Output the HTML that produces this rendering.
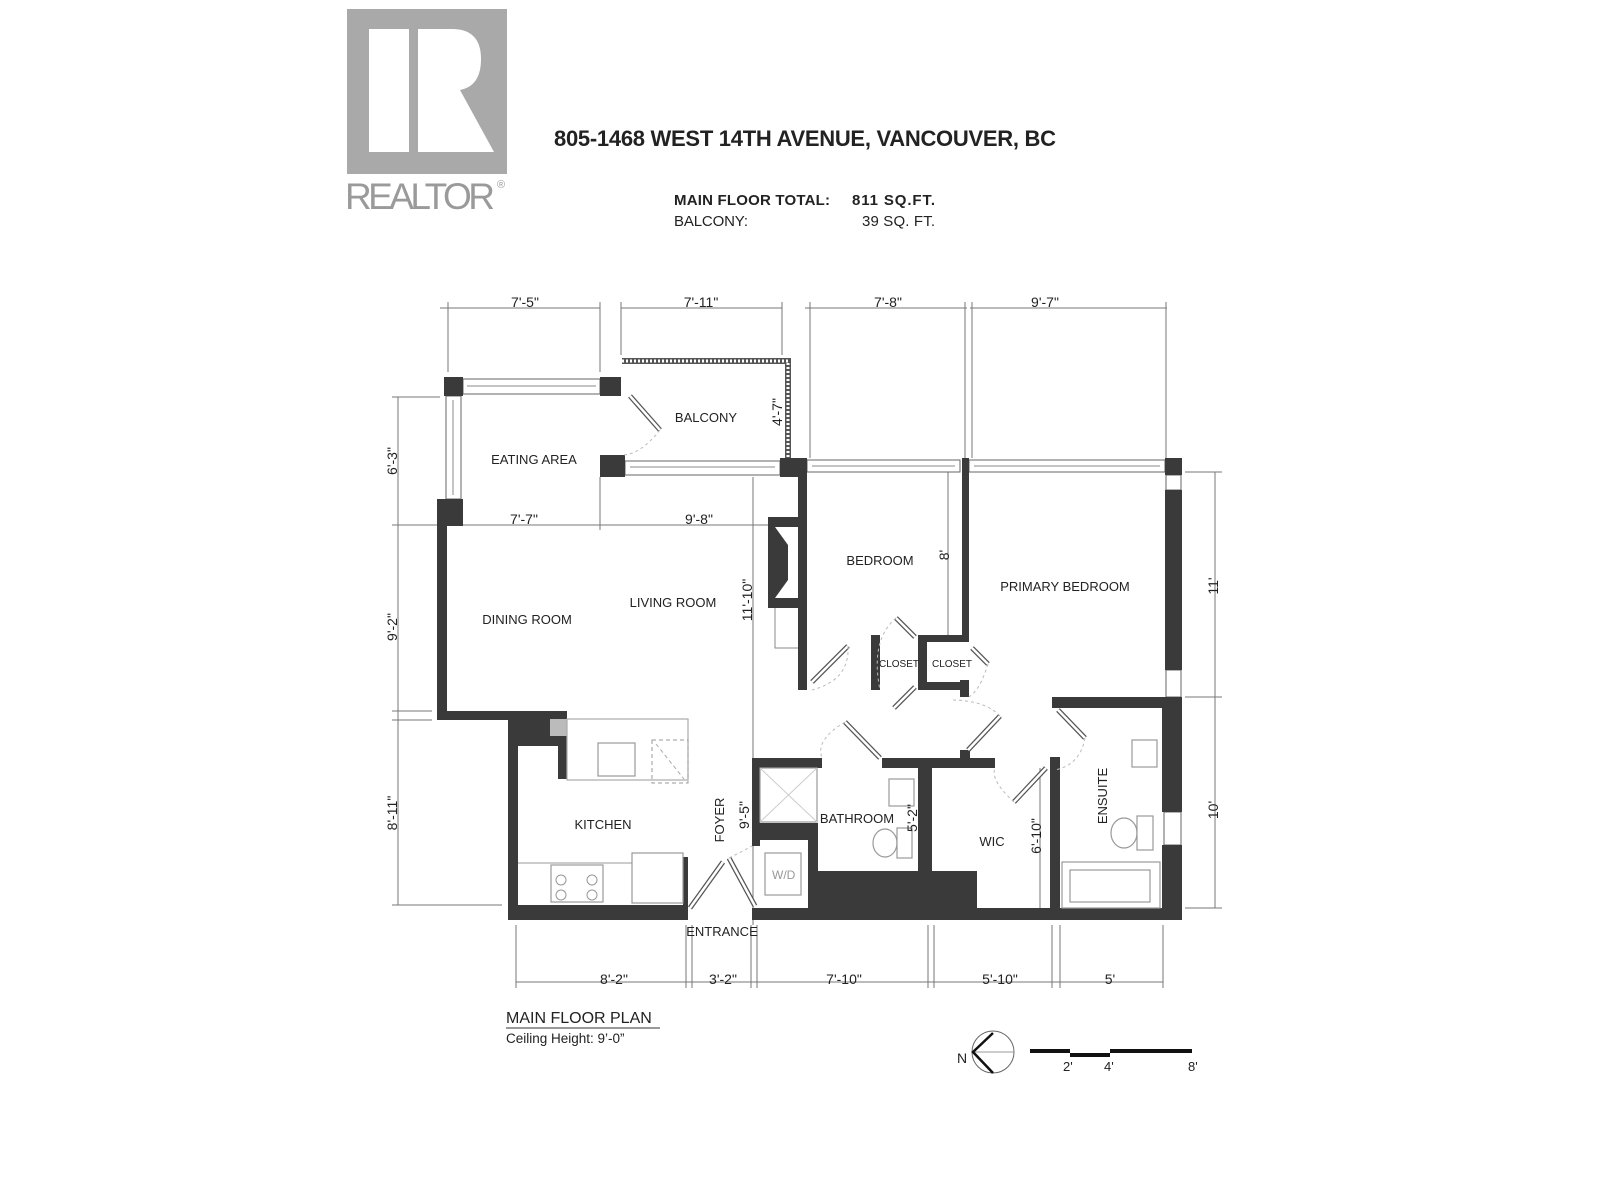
<!DOCTYPE html>
<html><head><meta charset="utf-8"><style>
html,body{margin:0;padding:0;background:#fff}
svg{display:block}
text{font-family:"Liberation Sans",sans-serif;fill:#222}
.r{font-size:13px}
.d{font-size:14px}
.w{fill:#3a3a3a}
.dim{stroke:#777;stroke-width:1;fill:none}
.win{fill:#fff;stroke:#666;stroke-width:1}
.door{stroke:#555;stroke-width:5;stroke-linecap:butt}
.doori{stroke:#fff;stroke-width:2.5}
.arc{stroke:#bbb;stroke-width:1;fill:none;stroke-dasharray:3 3}
.fx{fill:#fff;stroke:#999;stroke-width:1.2}
</style></head><body>
<svg width="1600" height="1200" viewBox="0 0 1600 1200" xmlns="http://www.w3.org/2000/svg">
<!-- logo -->
<rect x="347" y="9" width="160" height="165" fill="#a9a9a9"/>
<rect x="369" y="29" width="40" height="123" fill="#fff"/>
<path d="M418 29 H452 Q481 29 481 59 Q481 86 460 90 L494 152 H418 Z" fill="#fff"/>
<text x="345" y="209" style="font-size:37px;fill:#9a9a9a" textLength="150">REALTOR</text>
<text x="497" y="188" style="font-size:11px;fill:#9a9a9a">®</text>
<!-- title -->
<text x="554" y="146" style="font-size:22px;font-weight:bold" textLength="502">805-1468 WEST 14TH AVENUE, VANCOUVER, BC</text>
<text x="674" y="205" style="font-size:15px;font-weight:bold" textLength="156">MAIN FLOOR TOTAL:</text>
<text x="852" y="205" style="font-size:15px;font-weight:bold" textLength="83">811 SQ.FT.</text>
<text x="674" y="226" style="font-size:15px" textLength="74">BALCONY:</text>
<text x="862" y="226" style="font-size:15px" textLength="73">39 SQ. FT.</text>

<!-- dimension lines -->
<g class="dim">
<line x1="440" y1="308" x2="600" y2="308"/><line x1="621" y1="308" x2="782" y2="308"/>
<line x1="805" y1="308" x2="967" y2="308"/><line x1="970" y1="308" x2="1167" y2="308"/>
<line x1="448" y1="302" x2="448" y2="372"/><line x1="600" y1="302" x2="600" y2="372"/>
<line x1="621" y1="302" x2="621" y2="355"/><line x1="782" y1="302" x2="782" y2="355"/>
<line x1="810" y1="302" x2="810" y2="458"/><line x1="965" y1="302" x2="965" y2="458"/>
<line x1="972" y1="302" x2="972" y2="458"/><line x1="1166" y1="302" x2="1166" y2="458"/>
<line x1="398" y1="397" x2="398" y2="905"/>
<line x1="392" y1="397" x2="440" y2="397"/><line x1="392" y1="525" x2="440" y2="525"/>
<line x1="392" y1="711" x2="432" y2="711"/><line x1="392" y1="720" x2="432" y2="720"/>
<line x1="392" y1="905" x2="502" y2="905"/>
<line x1="447" y1="525" x2="806" y2="525"/>
<line x1="600" y1="477" x2="600" y2="530"/>
<line x1="753" y1="477" x2="753" y2="925"/>
<line x1="948" y1="472" x2="948" y2="637"/>
<line x1="1215" y1="472" x2="1215" y2="908"/>
<line x1="1185" y1="472" x2="1222" y2="472"/><line x1="1185" y1="697" x2="1222" y2="697"/><line x1="1185" y1="908" x2="1222" y2="908"/>
<line x1="1040" y1="768" x2="1040" y2="908"/>
<line x1="516" y1="982" x2="1163" y2="982"/>
<line x1="516" y1="925" x2="516" y2="988"/><line x1="686" y1="925" x2="686" y2="988"/><line x1="692" y1="925" x2="692" y2="988"/>
<line x1="751" y1="925" x2="751" y2="988"/><line x1="757" y1="925" x2="757" y2="988"/>
<line x1="928" y1="925" x2="928" y2="988"/><line x1="934" y1="925" x2="934" y2="988"/>
<line x1="1052" y1="925" x2="1052" y2="988"/><line x1="1060" y1="925" x2="1060" y2="988"/><line x1="1163" y1="925" x2="1163" y2="988"/>
</g>

<!-- balcony rail hatched -->
<path d="M622 361 H788 V460" fill="none" stroke="#555" stroke-width="6"/>
<path d="M622 361 H788 V460" fill="none" stroke="#fff" stroke-width="3" stroke-dasharray="2 2"/>
<!-- windows -->
<rect class="win" x="463" y="379" width="137" height="15"/><line x1="467" y1="386" x2="596" y2="386" stroke="#888"/>
<rect class="win" x="446" y="396" width="15" height="103"/><line x1="453" y1="400" x2="453" y2="495" stroke="#888"/>
<rect class="win" x="625" y="461" width="155" height="14"/><line x1="630" y1="467" x2="775" y2="467" stroke="#888"/>
<rect class="win" x="807" y="460" width="153" height="12"/><line x1="812" y1="466" x2="955" y2="466" stroke="#888"/>
<rect class="win" x="969" y="460" width="196" height="12"/><line x1="974" y1="466" x2="1160" y2="466" stroke="#888"/>
<rect class="win" x="1166" y="475" width="15" height="15"/>
<rect class="win" x="1166" y="670" width="15" height="27"/>
<rect class="win" x="1164" y="812" width="17" height="33"/>

<!-- walls -->
<g class="w">
<rect x="444" y="377" width="19" height="19"/>
<rect x="600" y="377" width="21" height="19"/>
<rect x="600" y="455" width="25" height="22"/>
<rect x="780" y="458" width="27" height="19"/>
<rect x="437" y="499" width="26" height="27"/>
<rect x="437" y="507" width="10" height="213"/>
<rect x="437" y="711" width="130" height="9"/>
<rect x="508" y="711" width="59" height="35"/>
<rect x="508" y="711" width="10" height="209"/>
<rect x="558" y="711" width="9" height="68"/>
<rect x="508" y="905" width="180" height="15"/>
<rect x="683" y="857" width="5" height="50"/>
<rect x="798" y="458" width="9" height="232"/>
<rect x="768" y="517" width="30" height="91"/>
<rect x="962" y="458" width="7" height="184"/>
<rect x="918" y="635" width="51" height="7"/>
<rect x="918" y="635" width="9" height="55"/>
<rect x="918" y="682" width="51" height="8"/>
<rect x="960" y="680" width="9" height="17"/>
<rect x="871" y="635" width="9" height="55"/>
<rect x="1165" y="458" width="17" height="17"/>
<rect x="1165" y="490" width="17" height="180"/>
<rect x="1052" y="697" width="130" height="11"/>
<rect x="1162" y="697" width="20" height="115"/>
<rect x="1162" y="845" width="20" height="75"/>
<rect x="752" y="908" width="430" height="12"/>
<rect x="1050" y="757" width="10" height="153"/>
<rect x="882" y="758" width="113" height="10"/>
<rect x="960" y="750" width="10" height="18"/>
<rect x="918" y="758" width="14" height="114"/>
<rect x="817" y="871" width="160" height="39"/>
<rect x="752" y="758" width="70" height="10"/>
<rect x="752" y="758" width="8" height="88"/>
<rect x="752" y="823" width="66" height="17"/>
<rect x="808" y="823" width="10" height="87"/>
</g>
<!-- fireplace insert -->
<path d="M775 527 H798 V598 H775 L788 580 V545 Z" fill="#fff"/>
<path d="M775 608 V648 H798" fill="none" stroke="#888"/>
<rect x="550" y="719" width="17" height="17" fill="#bbb"/>

<!-- kitchen fixtures -->
<rect class="fx" x="567" y="719" width="121" height="61" style="stroke:#aaa"/>
<rect class="fx" x="598" y="743" width="37" height="33"/>
<rect x="652" y="740" width="36" height="43" fill="none" stroke="#999" stroke-dasharray="4 3"/>
<line x1="656" y1="744" x2="684" y2="779" stroke="#aaa" stroke-dasharray="4 3"/>
<line x1="518" y1="863" x2="633" y2="863" stroke="#999"/>
<rect class="fx" x="551" y="865" width="52" height="37"/>
<circle cx="561" cy="880" r="5" fill="none" stroke="#999"/><circle cx="592" cy="880" r="5" fill="none" stroke="#999"/>
<circle cx="561" cy="895" r="5" fill="none" stroke="#999"/><circle cx="592" cy="895" r="5" fill="none" stroke="#999"/>
<rect class="fx" x="632" y="853" width="51" height="50"/>
<!-- bath fixtures -->
<rect class="fx" x="760" y="768" width="57" height="54"/>
<line x1="760" y1="768" x2="817" y2="822" stroke="#ccc"/><line x1="817" y1="768" x2="760" y2="822" stroke="#ccc"/>
<rect class="fx" x="765" y="853" width="36" height="42"/>
<text x="772" y="879" style="font-size:12px;fill:#999">W/D</text>
<rect class="fx" x="889" y="779" width="25" height="27"/>
<ellipse cx="885" cy="843" rx="12" ry="14" class="fx"/><rect class="fx" x="897" y="828" width="15" height="30"/>
<rect class="fx" x="1132" y="740" width="25" height="27"/>
<ellipse cx="1124" cy="833" rx="13" ry="15" class="fx"/><rect class="fx" x="1137" y="816" width="16" height="34"/>
<rect class="fx" x="1062" y="862" width="98" height="46"/><rect class="fx" x="1070" y="870" width="80" height="32"/>

<!-- doors -->
<g>
<line class="door" x1="630" y1="396" x2="660" y2="430"/><line class="doori" x1="630" y1="396" x2="660" y2="430"/>
<line class="door" x1="812" y1="682" x2="848" y2="646"/><line class="doori" x1="812" y1="682" x2="848" y2="646"/>
<line class="door" x1="915" y1="637" x2="896" y2="618"/><line class="doori" x1="915" y1="637" x2="896" y2="618"/>
<line class="door" x1="915" y1="687" x2="894" y2="708"/><line class="doori" x1="915" y1="687" x2="894" y2="708"/>
<line class="door" x1="972" y1="648" x2="988" y2="664"/><line class="doori" x1="972" y1="648" x2="988" y2="664"/>
<line class="door" x1="880" y1="758" x2="845" y2="722"/><line class="doori" x1="880" y1="758" x2="845" y2="722"/>
<line class="door" x1="968" y1="750" x2="1000" y2="716"/><line class="doori" x1="968" y1="750" x2="1000" y2="716"/>
<line class="door" x1="1058" y1="710" x2="1085" y2="738"/><line class="doori" x1="1058" y1="710" x2="1085" y2="738"/>
<line class="door" x1="1046" y1="768" x2="1014" y2="802"/><line class="doori" x1="1046" y1="768" x2="1014" y2="802"/>
<line class="door" x1="690" y1="908" x2="723" y2="862"/><line class="doori" x1="690" y1="908" x2="723" y2="862"/>
<line class="door" x1="755" y1="906" x2="729" y2="858"/><line class="doori" x1="755" y1="906" x2="729" y2="858"/>
</g>
<g class="arc">
<path d="M660 430 Q640 455 622 455"/><path d="M848 646 Q850 680 812 690"/>
<path d="M896 618 Q870 640 880 690"/><path d="M988 664 Q980 690 969 697"/>
<path d="M845 722 Q815 740 822 758"/><path d="M1000 716 Q985 700 950 700"/>
<path d="M1085 738 Q1080 765 1055 770"/><path d="M1014 802 Q990 780 995 768"/>
<path d="M729 858 Q745 850 752 846"/>
</g>

<!-- room labels -->
<g class="r">
<text x="706" y="422" text-anchor="middle">BALCONY</text>
<text x="534" y="464" text-anchor="middle">EATING AREA</text>
<text x="527" y="624" text-anchor="middle">DINING ROOM</text>
<text x="673" y="607" text-anchor="middle">LIVING ROOM</text>
<text x="880" y="565" text-anchor="middle">BEDROOM</text>
<text x="1065" y="591" text-anchor="middle">PRIMARY BEDROOM</text>
<text x="899" y="667" text-anchor="middle" style="font-size:10px">CLOSET</text>
<text x="952" y="667" text-anchor="middle" style="font-size:10px">CLOSET</text>
<text x="857" y="823" text-anchor="middle">BATHROOM</text>
<text x="992" y="846" text-anchor="middle">WIC</text>
<text x="603" y="829" text-anchor="middle">KITCHEN</text>
<text x="722" y="936" text-anchor="middle">ENTRANCE</text>
<text transform="translate(1107,796) rotate(-90)" text-anchor="middle">ENSUITE</text>
<text transform="translate(724,820) rotate(-90)" text-anchor="middle">FOYER</text>
</g>
<!-- dim labels -->
<g class="d">
<text x="525" y="307" text-anchor="middle">7'-5"</text>
<text x="701" y="307" text-anchor="middle">7'-11"</text>
<text x="888" y="307" text-anchor="middle">7'-8"</text>
<text x="1045" y="307" text-anchor="middle">9'-7"</text>
<text x="524" y="524" text-anchor="middle">7'-7"</text>
<text x="699" y="524" text-anchor="middle">9'-8"</text>
<text x="614" y="984" text-anchor="middle">8'-2"</text>
<text x="723" y="984" text-anchor="middle">3'-2"</text>
<text x="844" y="984" text-anchor="middle">7'-10"</text>
<text x="1000" y="984" text-anchor="middle">5'-10"</text>
<text x="1110" y="984" text-anchor="middle">5'</text>
<text transform="translate(397,461) rotate(-90)" text-anchor="middle">6'-3"</text>
<text transform="translate(397,627) rotate(-90)" text-anchor="middle">9'-2"</text>
<text transform="translate(397,813) rotate(-90)" text-anchor="middle">8'-11"</text>
<text transform="translate(752,600) rotate(-90)" text-anchor="middle">11'-10"</text>
<text transform="translate(782,412) rotate(-90)" text-anchor="middle">4'-7"</text>
<text transform="translate(949,555) rotate(-90)" text-anchor="middle">8'</text>
<text transform="translate(1218,586) rotate(-90)" text-anchor="middle">11'</text>
<text transform="translate(1218,810) rotate(-90)" text-anchor="middle">10'</text>
<text transform="translate(917,818) rotate(-90)" text-anchor="middle">5'-2"</text>
<text transform="translate(1041,836) rotate(-90)" text-anchor="middle">6'-10"</text>
<text transform="translate(749,815) rotate(-90)" text-anchor="middle">9'-5"</text>
</g>

<!-- title block -->
<text x="506" y="1023" style="font-size:16px">MAIN FLOOR PLAN</text>
<line x1="506" y1="1028" x2="660" y2="1028" stroke="#333"/>
<text x="506" y="1043" style="font-size:13.5px">Ceiling Height: 9’-0”</text>

<!-- north arrow & scale -->
<circle cx="993" cy="1052" r="21" fill="#fff" stroke="#666"/>
<line x1="973" y1="1052" x2="1014" y2="1052" stroke="#999"/>
<path d="M993 1033 L973 1052 L993 1073" fill="none" stroke="#111" stroke-width="2.5"/>
<text x="957" y="1063" style="font-size:14px">N</text>
<rect x="1030" y="1049" width="40" height="4" fill="#111"/>
<rect x="1070" y="1053" width="40" height="4" fill="#111"/>
<rect x="1110" y="1049" width="82" height="4" fill="#111"/>
<text x="1063" y="1071" style="font-size:13px">2'</text>
<text x="1104" y="1071" style="font-size:13px">4'</text>
<text x="1188" y="1071" style="font-size:13px">8'</text>
</svg>
</body></html>
